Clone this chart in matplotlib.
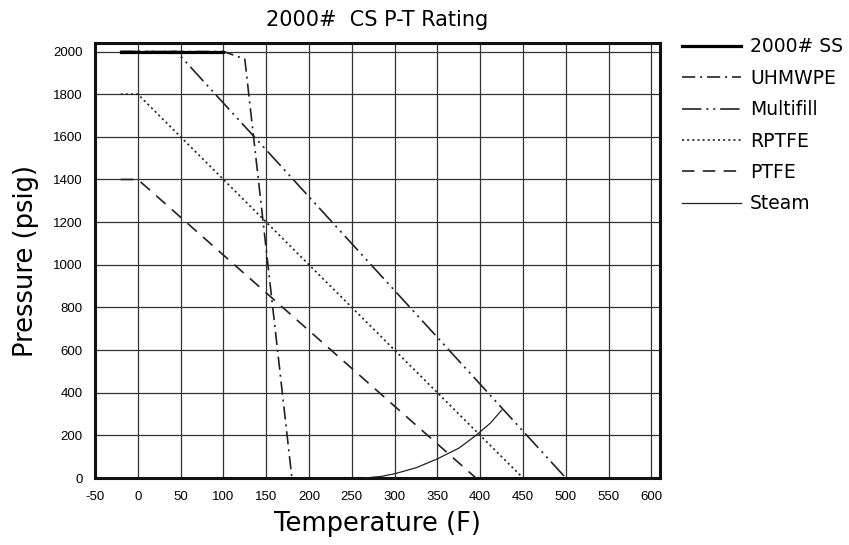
import matplotlib
matplotlib.use("Agg")
import matplotlib.pyplot as plt

plt.rcParams['font.family'] = ['Liberation Sans', 'DejaVu Sans']
plt.rcParams['lines.scale_dashes'] = False
plt.rcParams['axes.unicode_minus'] = False

# curves (temperature F, pressure psig)
ss_t = [-20, 100]
ss_p = [2000, 2000]
uhmwpe_t = [-20, 100, 125, 180]
uhmwpe_p = [2000, 2000, 1965, 0]
multifill_t = [-20, 45, 500]
multifill_p = [2000, 2000, 0]
rptfe_t = [-20, 0, 450]
rptfe_p = [1800, 1800, 0]
ptfe_t = [-20, 0, 395]
ptfe_p = [1400, 1400, 0]
steam_t = [265, 285, 300, 325, 350, 375, 395, 412, 425]
steam_p = [0, 8, 20, 48, 90, 140, 200, 258, 318]

x_ticks = list(range(-50, 601, 50))
y_ticks = list(range(0, 2001, 200))

wide = 'DejaVu Sans'  # reference lettering is wider than Arial

fig = plt.figure(figsize=(8.49, 5.45), dpi=100)
ax = fig.add_axes([0.1119, 0.1229, 0.6655, 0.7982])

ax.plot(ss_t, ss_p, color='black', lw=2.3, label='2000# SS', zorder=5)
ax.plot(uhmwpe_t, uhmwpe_p, color='#222222', lw=1.2,
        linestyle=(0, (9.5, 3.5, 1.5, 3.5)), label='UHMWPE', zorder=4)
ax.plot(multifill_t, multifill_p, color='#222222', lw=1.2,
        linestyle=(0, (14, 3.5, 1.5, 3.5, 1.5, 3.5)), label='Multifill', zorder=4)
ax.plot(rptfe_t, rptfe_p, color='#222222', lw=1.2,
        linestyle=(0, (1.5, 2.2)), label='RPTFE', zorder=4)
ax.plot(ptfe_t, ptfe_p, color='#222222', lw=1.2,
        linestyle=(0, (9, 6)), label='PTFE', zorder=4)
ax.plot(steam_t, steam_p, color='#222222', lw=0.9, label='Steam', zorder=4)

ax.set_xlim(-50, 610)
ax.set_ylim(0, 2040)
ax.set_xticks(x_ticks)
ax.set_yticks(y_ticks)
ax.tick_params(length=0, labelsize=9.5, pad=9)
ax.grid(True, color='#333333', lw=0.9)
ax.set_axisbelow(True)
for s in ax.spines.values():
    s.set_linewidth(2.2)
    s.set_color('#111111')

ax.set_title('2000#  CS P-T Rating', fontsize=15, pad=12, family=wide)
ax.set_xlabel('Temperature (F)', fontsize=18.5, labelpad=6, family=wide)
ax.set_ylabel('Pressure (psig)', fontsize=18.5, labelpad=10, family=wide)

fig.legend(loc='upper left', bbox_to_anchor=(0.795, 0.945), frameon=False,
           prop={'family': wide, 'size': 13.5}, handlelength=3.1,
           handletextpad=0.5, labelspacing=0.66, borderaxespad=0)

fig.savefig('out.png', dpi=100)
